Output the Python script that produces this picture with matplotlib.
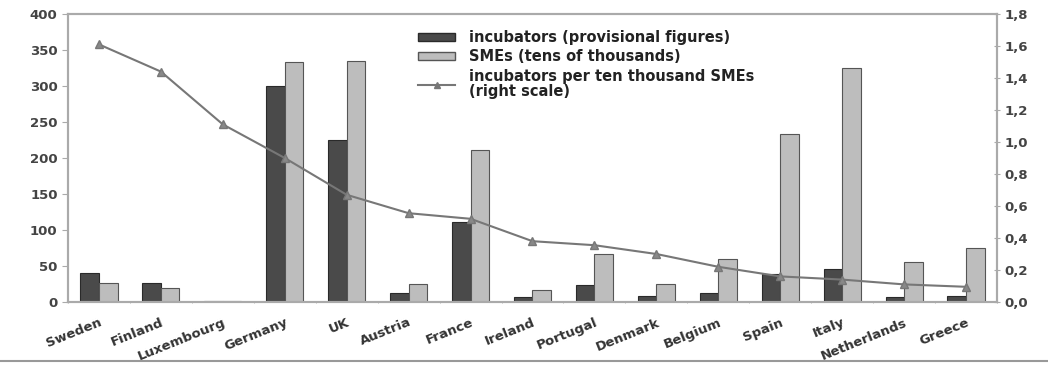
import numpy as np
import matplotlib
matplotlib.use("Agg")
import matplotlib.pyplot as plt
from matplotlib.lines import Line2D
from matplotlib.ticker import FuncFormatter, MultipleLocator

countries = ["Sweden", "Finland", "Luxembourg", "Germany", "UK", "Austria", "France",
             "Ireland", "Portugal", "Denmark", "Belgium", "Spain", "Italy",
             "Netherlands", "Greece"]
incubators = [40, 26, 2, 300, 225, 13, 111, 7, 23, 8, 13, 39, 46, 7, 8]
smes = [26, 19, 2, 333, 335, 25, 211, 17, 67, 25, 60, 234, 325, 56, 75]
per_ten_thousand = [1.61, 1.44, 1.11, 0.90, 0.67, 0.555, 0.52, 0.38, 0.355, 0.30,
                    0.22, 0.16, 0.14, 0.11, 0.095]

plt.rcParams.update({"font.family": "DejaVu Sans", "font.weight": "bold"})

fig = plt.figure(figsize=(10.48, 3.65), dpi=100)
ax = fig.add_axes([68 / 1048, 1 - 302 / 365, 929 / 1048, 288 / 365])
ax2 = ax.twinx()

x = np.arange(len(countries))
w = 0.3
ax.bar(x - w / 2, incubators, w, color="#4a4a4a", edgecolor="#2a2a2a", linewidth=0.8,
       label="incubators (provisional figures)", zorder=2)
ax.bar(x + w / 2, smes, w, color="#bdbdbd", edgecolor="#555555", linewidth=0.8,
       label="SMEs (tens of thousands)", zorder=2)
ax2.plot(x, per_ten_thousand, color="#777777", lw=1.5, marker="^", ms=5.5,
         markerfacecolor="#888888", markeredgecolor="#777777", zorder=3)

ax.set_xlim(-0.5, len(countries) - 0.5)
ax.set_ylim(0, 400)
ax2.set_ylim(0, 1.8)
ax.yaxis.set_major_locator(MultipleLocator(50))
ax2.yaxis.set_major_locator(MultipleLocator(0.2))
ax2.yaxis.set_major_formatter(FuncFormatter(lambda v, p: f"{v:.1f}".replace(".", ",")))

ax.set_xticks(x)
ax.set_xticklabels(countries, rotation=22, ha="right", rotation_mode="anchor",
                   fontsize=9.5, color="#333333")
ax.set_xticks(np.arange(-0.5, len(countries)), minor=True)
ax.tick_params(axis="x", which="major", length=0, pad=10)
ax.tick_params(axis="x", which="minor", length=2, color="#aaaaaa", direction="inout")
ax.tick_params(axis="y", length=4, color="#aaaaaa", labelsize=9.5, labelcolor="#444444")
ax2.tick_params(axis="y", length=4, color="#aaaaaa", labelsize=9.5, labelcolor="#444444",
                direction="inout")

for a in (ax, ax2):
    for s in a.spines.values():
        s.set_color("#aaaaaa")
        s.set_linewidth(1.5)

handles = [plt.Rectangle((0, 0), 1, 1, color="#4a4a4a", ec="#2a2a2a"),
           plt.Rectangle((0, 0), 1, 1, color="#bdbdbd", ec="#555555"),
           Line2D([], [], color="#777777", lw=1.5, marker="^", ms=5)]
labels = ["incubators (provisional figures)", "SMEs (tens of thousands)",
          "incubators per ten thousand SMEs\n(right scale)"]
leg = ax.legend(handles, labels, loc="upper left", bbox_to_anchor=(0.37, 0.965),
                frameon=False, fontsize=10.5, handlelength=2.6, handleheight=0.5,
                handletextpad=0.9, labelspacing=0.3, borderaxespad=0)
for t in leg.get_texts():
    t.set_color("#222222")
    t.set_linespacing(1.05)

fig.add_artist(Line2D([0, 1], [1 - 361 / 365] * 2, color="#999999", lw=1.5))

fig.savefig("out.png", dpi=100)
